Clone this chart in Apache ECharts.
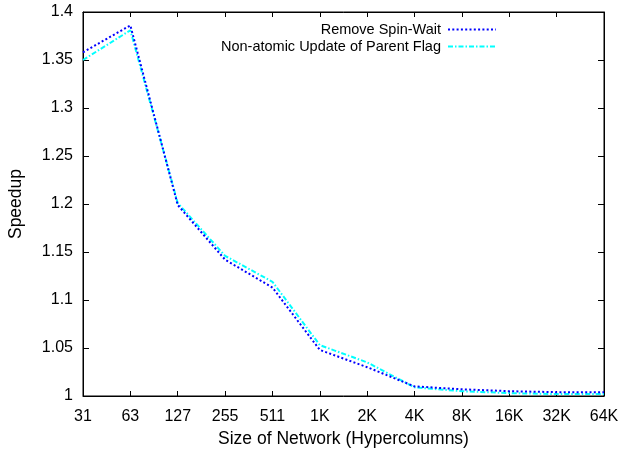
<!DOCTYPE html>
<html>
<head>
<meta charset="utf-8">
<script src="https://cdn.jsdelivr.net/npm/echarts@6/dist/echarts.min.js"></script>
<style>
html, body { margin: 0; padding: 0; background: #fff; }
#chart { width: 621px; height: 449px; }
</style>
</head>
<body>
<div id="chart"></div>
<script>
// network sizes (hypercolumns)
var sizes = ['31', '63', '127', '255', '511', '1K', '2K', '4K', '8K', '16K', '32K', '64K'];
// speedup per variant
var spinWait = [1.358, 1.386, 1.199, 1.142, 1.113, 1.048, 1.030, 1.010, 1.007, 1.005, 1.004, 1.004];
var parentFlag = [1.350, 1.381, 1.201, 1.146, 1.119, 1.053, 1.035, 1.009, 1.005, 1.003, 1.002, 1.002];
var yTicks = { min: 1, max: 1.4, step: 0.05 };

var font = 'Liberation Sans, Arial, sans-serif';
var myChart = echarts.init(document.getElementById('chart'));

var option = {
	animation: false,
	backgroundColor: '#fff',
	grid: {
		left: 83, right: 17, top: 12, bottom: 53,
		outerBoundsMode: 'none', containLabel: false,
		show: true, borderColor: '#000', borderWidth: 1, backgroundColor: 'transparent'
	},
	legend: {
		orient: 'vertical',
		right: 119, top: 17,
		align: 'right',
		itemWidth: 48, itemHeight: 14, itemGap: 2,
		itemStyle: { opacity: 0 },
		textStyle: { fontFamily: font, fontSize: 14.5, color: '#000', padding: [0, 2, 0, 0] },
		data: ['Remove Spin-Wait', 'Non-atomic Update of Parent Flag']
	},
	xAxis: [
		{
			type: 'category', data: sizes, boundaryGap: false,
			name: 'Size of Network (Hypercolumns)', nameLocation: 'middle', nameGap: 31,
			nameTextStyle: { fontFamily: font, fontSize: 17.5, color: '#000' },
			axisLine: { lineStyle: { color: '#000', width: 1 } },
			axisTick: { inside: true, length: 5, lineStyle: { color: '#000' } },
			axisLabel: { fontFamily: font, fontSize: 16, color: '#000', margin: 13 },
			splitLine: { show: false }
		},
		{
			type: 'category', data: sizes, boundaryGap: false, position: 'top',
			axisLine: { lineStyle: { color: '#000', width: 1 } },
			axisTick: { inside: true, length: 5, lineStyle: { color: '#000' } },
			axisLabel: { show: false },
			splitLine: { show: false }
		}
	],
	yAxis: [
		{
			type: 'value', min: yTicks.min, max: yTicks.max, interval: yTicks.step,
			name: 'Speedup', nameLocation: 'middle', nameGap: 58, nameRotate: 90,
			nameTextStyle: { fontFamily: font, fontSize: 17.5, color: '#000' },
			axisLine: { show: true, lineStyle: { color: '#000', width: 1 } },
			axisTick: { show: true, inside: true, length: 6, lineStyle: { color: '#000' } },
			axisLabel: {
				fontFamily: font, fontSize: 16, color: '#000', margin: 10,
				formatter: function (v) { return String(+v.toFixed(2)); }
			},
			splitLine: { show: false }
		},
		{
			type: 'value', min: yTicks.min, max: yTicks.max, interval: yTicks.step, position: 'right',
			axisLine: { show: true, lineStyle: { color: '#000', width: 1 } },
			axisTick: { show: true, inside: true, length: 6, lineStyle: { color: '#000' } },
			axisLabel: { show: false },
			splitLine: { show: false }
		}
	],
	series: [
		{
			name: 'Remove Spin-Wait', type: 'line', data: spinWait,
			symbol: 'none', color: '#0000ff',
			lineStyle: { color: '#0000ff', width: 2, type: [2, 2.3] },
			z: 3
		},
		{
			name: 'Non-atomic Update of Parent Flag', type: 'line', data: parentFlag,
			symbol: 'none', color: '#00ffff',
			lineStyle: { color: '#00ffff', width: 2, type: [5, 2, 1.5, 2] },
			z: 2
		}
	]
};

myChart.setOption(option);
</script>
</body>
</html>
